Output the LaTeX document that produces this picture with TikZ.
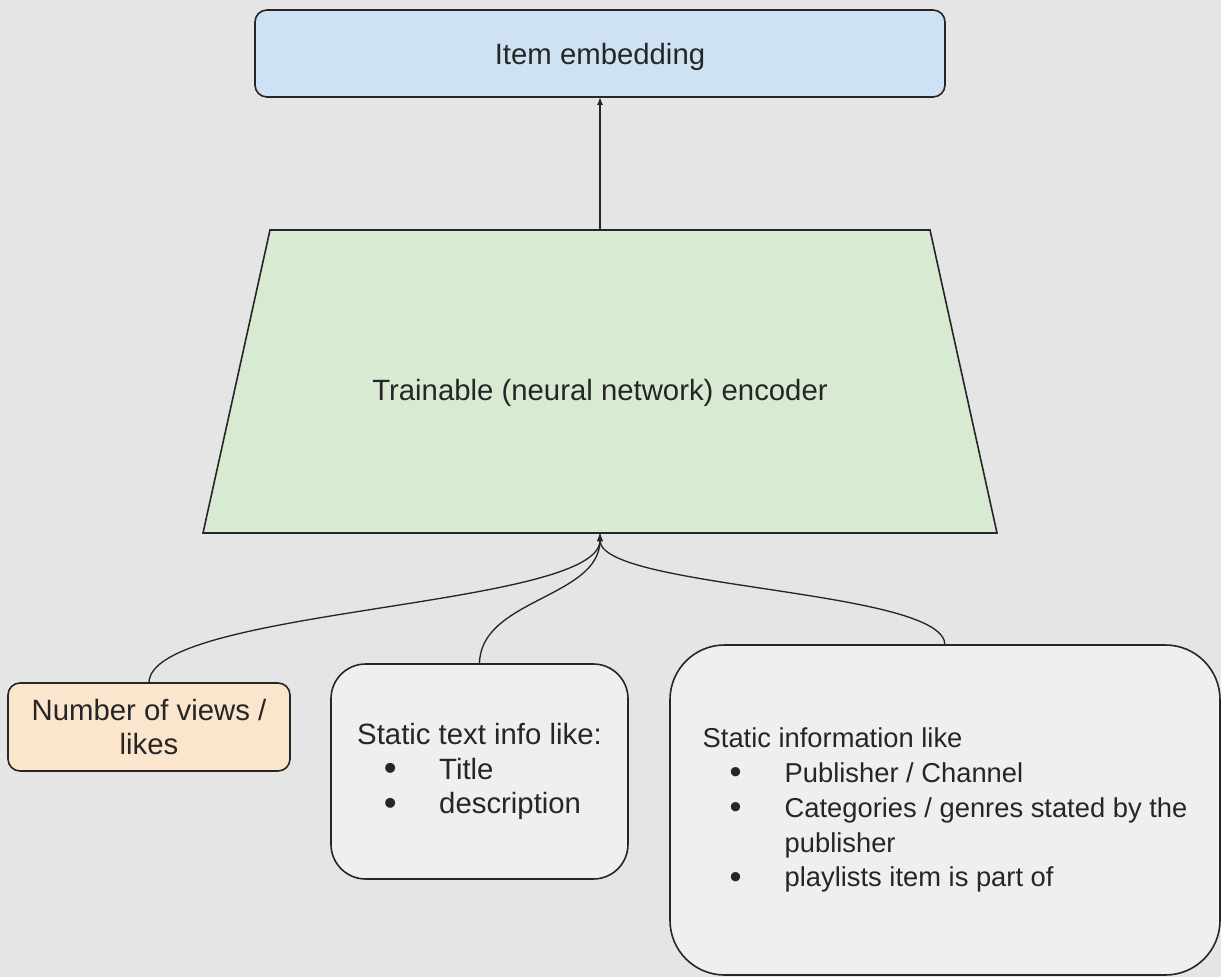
\documentclass[tikz,border=0pt]{standalone}
\usepackage{fontspec}
\setmainfont{Liberation Sans}
\usetikzlibrary{arrows.meta}

\definecolor{bgcol}{HTML}{E5E5E5}
\definecolor{embblue}{HTML}{CFE2F3}
\definecolor{encgreen}{HTML}{D9EAD3}
\definecolor{viewsorange}{HTML}{FCE5CD}
\definecolor{infogray}{HTML}{EFEFEF}
\definecolor{edgecol}{HTML}{262626}

\newcommand{\bul}[1]{\makebox[49.5pt][c]{\raisebox{-1pt}{\scalebox{1.25}{\textbullet}}}\hspace{12pt}#1}

\tikzset{
  box/.style={draw=edgecol, line width=1.2pt, inner sep=0pt, outer sep=0pt,
    text=edgecol, font=\fontsize{22}{26}\selectfont},
  feed/.style={draw=edgecol, line width=1pt, -{Latex[length=6pt,width=4.5pt]}}
}

\begin{document}
\begin{tikzpicture}[x=0.75pt,y=0.75pt,yscale=-1,xscale=1]
% background
\fill[bgcol] (0,0) rectangle (1221,977);

% Item embedding
\node[box, fill=embblue, rounded corners=9pt, minimum width=517.5pt, minimum height=65.25pt, text depth=0pt] (emb) at (600,53.5) {Item embedding};
% Encoder (trapezoid drawn on its node's frame)
\node[box, draw=none, minimum width=595.5pt, minimum height=227.25pt, text depth=0pt] (enc) at (600,381.5) {};
\draw[fill=encgreen, draw=edgecol, line width=1.2pt] (enc.south west) -- (enc.south east)
  -- ([xshift=-50.25pt]enc.north east) -- ([xshift=50.25pt]enc.north west) -- cycle;
\node[box, draw=none, text depth=0pt] (enclabel) at (600,390) {Trainable (neural network) encoder};

% Inputs
\node[box, fill=viewsorange, rounded corners=9pt, minimum width=211.5pt, minimum height=66pt, align=center] (views) at (149,727) {Number of views /\\likes};
\node[box, fill=infogray, rounded corners=26pt, minimum width=222.75pt, minimum height=161.25pt, align=left] (textinfo) at (479.5,771.5) {Static text info like:\\\bul{Title}\\\bul{description}};
\node[box, fill=infogray, rounded corners=41pt, minimum width=412.5pt, minimum height=247.5pt, align=left, font=\fontsize{20.5}{26.2}\selectfont] (staticinfo) at (945,810) {Static information like\\\bul{Publisher / Channel}\\\bul{Categories / genres stated by the}\\\hspace*{61.5pt}publisher\\\bul{playlists item is part of}};

% Connections
\draw[feed] (enc.north) -- (emb.south);
\draw[feed] (views.north) .. controls +(0,-75) and +(0,75) .. (enc.south);
\draw[feed] (textinfo.north) .. controls +(0,-65) and +(0,65) .. (enc.south);
\draw[feed] (staticinfo.north) .. controls +(0,-56) and +(0,56) .. (enc.south);

\end{tikzpicture}
\end{document}
